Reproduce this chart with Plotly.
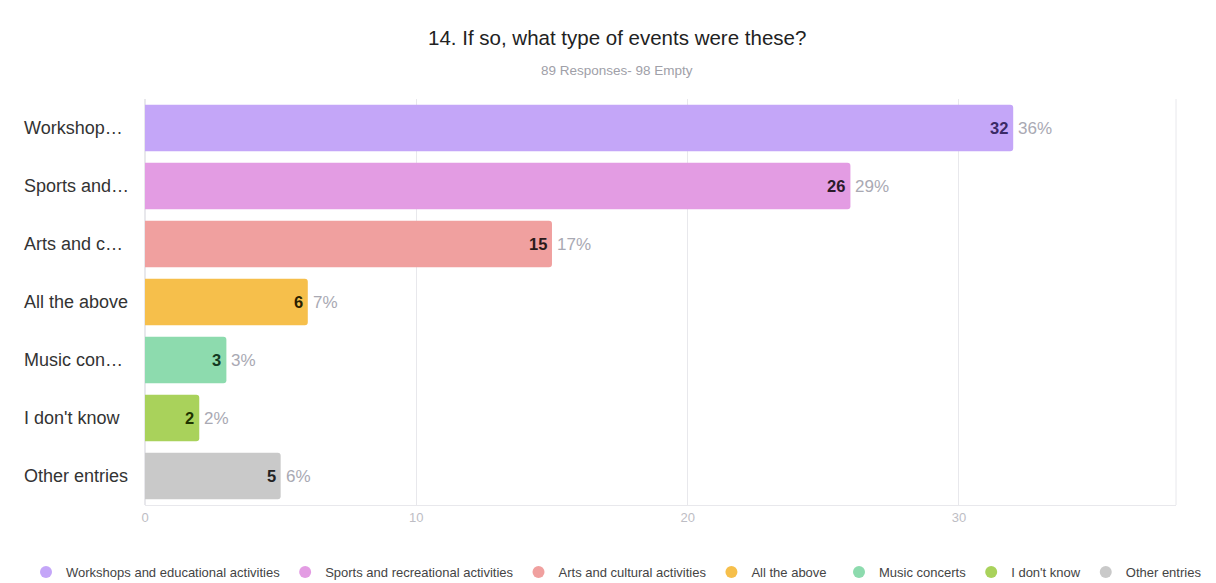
import plotly.graph_objects as go

categories = ["Workshops and educational activities", "Sports and recreational activities",
              "Arts and cultural activities", "All the above", "Music concerts",
              "I don't know", "Other entries"]
short_labels = ["Workshop…", "Sports and…", "Arts and c…", "All the above",
                "Music con…", "I don't know", "Other entries"]
counts = [32, 26, 15, 6, 3, 2, 5]
percents = ["36%", "29%", "17%", "7%", "3%", "2%", "6%"]
colors = ["#C4A6F8", "#E39CE3", "#F0A09F", "#F6BF4B", "#8DDBAE", "#A9D25B", "#C9C9C9"]
text_colors = ["#3A2A66", "#2A1A2A", "#2A1A1A", "#2A1E00", "#133A22", "#1F3300", "#222222"]
x_ticks = [0, 10, 20, 30]

FONT = "Liberation Sans, Arial, sans-serif"
L, R, T, B = 145, 40, 99, 78
PW = 1216 - L - R
PH = 583 - T - B

fig = go.Figure()
fig.add_trace(go.Bar(
    y=short_labels, x=counts, orientation="h",
    marker=dict(color=colors, line=dict(width=0)),
    showlegend=False, hoverinfo="skip",
))

for i, (name, col) in enumerate(zip(categories, colors)):
    fig.add_trace(go.Scatter(
        x=[None], y=[None], mode="markers", name=name,
        marker=dict(color=col, size=12, symbol="circle"), showlegend=True,
        legend="legend" if i < 4 else "legend2",
    ))

annotations = []
for lab, c, p, tc in zip(short_labels, counts, percents, text_colors):
    annotations.append(dict(x=c, y=lab, xref="x", yref="y", text=str(c), showarrow=False,
                            xanchor="right", xshift=-3,
                            font=dict(size=16.5, color=tc, family=FONT, weight="bold")))
    annotations.append(dict(x=c, y=lab, xref="x", yref="y", text=p, showarrow=False,
                            xanchor="left", xshift=3,
                            font=dict(size=17, color="#A9A9B3", family=FONT)))
    annotations.append(dict(x=(22 - L) / PW, y=lab, xref="paper", yref="y",
                            text=lab, showarrow=False, xanchor="left",
                            font=dict(size=18, color="#333333", family=FONT)))

annotations.append(dict(x=(617 - L) / PW, y=(583 - B - 38) / PH, xref="paper", yref="paper",
                        text="14. If so, what type of events were these?", showarrow=False,
                        xanchor="center", yanchor="middle",
                        font=dict(size=20.5, color="#222222", family=FONT)))
annotations.append(dict(x=(617 - L) / PW, y=(583 - B - 70) / PH, xref="paper", yref="paper",
                        text="89 Responses- 98 Empty", showarrow=False,
                        xanchor="center", yanchor="middle",
                        font=dict(size=13.5, color="#A0A0A8", family=FONT)))

legend_common = dict(orientation="h", yanchor="middle", yref="paper",
                     y=(583 - B - 572) / PH,
                     font=dict(size=13, color="#444444", family=FONT),
                     itemclick=False, itemwidth=30, tracegroupgap=0,
                     bgcolor="rgba(0,0,0,0)")

fig.update_layout(
    width=1216, height=583,
    margin=dict(l=L, r=R, t=T, b=B, autoexpand=False),
    paper_bgcolor="white", plot_bgcolor="white",
    font=dict(family=FONT),
    bargap=0.2,
    barcornerradius=3,
    xaxis=dict(range=[0, 38], tickvals=x_ticks, showgrid=True, gridcolor="#E8E8EC",
               gridwidth=1, zeroline=True, zerolinecolor="#E8E8EC", showline=True,
               linecolor="#E8E8EC", tickfont=dict(size=13, color="#BDBDC4"),
               ticks="", fixedrange=True),
    yaxis=dict(autorange="reversed", showticklabels=False, showgrid=False, ticks="",
               categoryorder="array", categoryarray=short_labels),
    legend=dict(legend_common, x=(26 - L) / PW, xanchor="left", xref="paper"),
    legend2=dict(legend_common, x=(839 - L) / PW, xanchor="left", xref="paper"),
    shapes=[dict(type="line", xref="x domain", yref="y domain", x0=1, x1=1, y0=0, y1=1,
                 line=dict(color="#E8E8EC", width=1))],
    annotations=annotations,
)

fig.write_html("out.html")
